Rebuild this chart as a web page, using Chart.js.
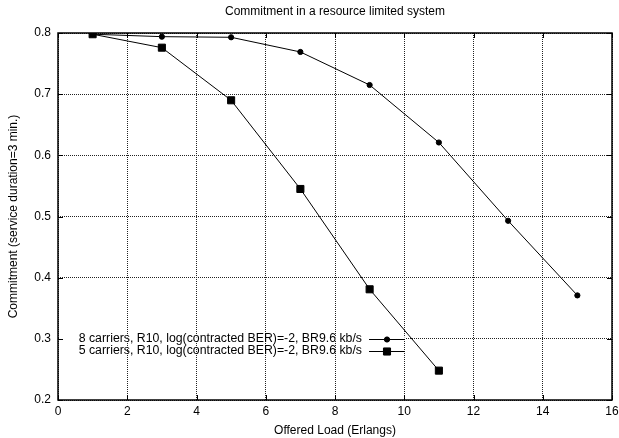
<!DOCTYPE html>
<html>
<head>
<meta charset="utf-8">
<script src="https://cdn.jsdelivr.net/npm/chart.js@4/dist/chart.umd.min.js"></script>
<style>
  html, body { margin: 0; padding: 0; background: #fff; }
  #wrap { width: 619px; height: 438px; }
</style>
</head>
<body>
<div id="wrap"><canvas id="commitChart" width="619" height="438"></canvas></div>
<script>
// offered load (Erlangs)
const loads8 = [1, 3, 5, 7, 9, 11, 13, 15];
const commit8 = [0.798, 0.794, 0.793, 0.769, 0.715, 0.621, 0.493, 0.371];
const loads5 = [1, 3, 5, 7, 9, 11];
const commit5 = [0.798, 0.776, 0.690, 0.545, 0.381, 0.248];
const seriesLabels = [
    "8 carriers, R10, log(contracted BER)=-2, BR9.6 kb/s",
    "5 carriers, R10, log(contracted BER)=-2, BR9.6 kb/s",
];
const xTicks = [0, 2, 4, 6, 8, 10, 12, 14, 16];
const yTicks = [0.2, 0.3, 0.4, 0.5, 0.6, 0.7, 0.8];

const FONT = "'Liberation Sans', Arial, sans-serif";
Chart.defaults.font.family = FONT;
Chart.defaults.font.size = 12;
Chart.defaults.color = "#000";

const toPoints = (xs, ys) => xs.map((x, i) => ({ x: x, y: ys[i] }));

// gnuplot style frame, inward ticks and key inside the plot
const framePlugin = {
    id: "frame",
    beforeDatasetsDraw(chart) {
        const ctx = chart.ctx;
        const y = chart.scales.y.getPixelForValue(0.3);
        ctx.save();
        ctx.fillStyle = "#fff";
        ctx.fillRect(chart.chartArea.left + 1, y - 1.5, 405 - chart.chartArea.left, 3);
        ctx.restore();
    },
    afterDraw(chart) {
        const ctx = chart.ctx;
        const a = chart.chartArea;
        const xs = chart.scales.x;
        const ys = chart.scales.y;
        ctx.save();
        ctx.strokeStyle = "#000";
        ctx.lineWidth = 1.5;
        ctx.strokeRect(Math.round(a.left), Math.round(a.top),
            Math.round(a.right - a.left), Math.round(a.bottom - a.top));
        ctx.lineWidth = 1;
        const tl = 5;
        ctx.beginPath();
        xTicks.forEach((v) => {
            const px = Math.round(xs.getPixelForValue(v)) + 0.5;
            ctx.moveTo(px, a.bottom); ctx.lineTo(px, a.bottom - tl);
            ctx.moveTo(px, a.top); ctx.lineTo(px, a.top + tl);
        });
        yTicks.forEach((v) => {
            const py = Math.round(ys.getPixelForValue(v)) + 0.5;
            ctx.moveTo(a.left, py); ctx.lineTo(a.left + tl, py);
            ctx.moveTo(a.right, py); ctx.lineTo(a.right - tl, py);
        });
        ctx.stroke();

        // key
        const rows = [338.5, 351];
        chart.data.datasets.forEach((ds, i) => {
            const ry = rows[i];
            ctx.fillStyle = "#000";
            ctx.font = "12.3px " + FONT;
            ctx.textAlign = "right";
            ctx.textBaseline = "middle";
            ctx.fillText(ds.label, 362, ry);
            ctx.beginPath();
            ctx.moveTo(369, Math.round(ry) + 0.5);
            ctx.lineTo(405, Math.round(ry) + 0.5);
            ctx.stroke();
            Chart.helpers.drawPoint(ctx, {
                pointStyle: ds.pointStyle,
                radius: ds.pointRadius,
                borderWidth: 1,
            }, 387, Math.round(ry) + 0.5);
            ctx.fill();
        });
        ctx.restore();
    },
};

new Chart(document.getElementById("commitChart").getContext("2d"), {
    type: "line",
    data: {
        datasets: [
            {
                label: seriesLabels[0],
                data: toPoints(loads8, commit8),
                borderColor: "#000",
                backgroundColor: "#000",
                borderWidth: 1,
                pointStyle: "circle",
                pointRadius: 2.6,
                pointBorderWidth: 1,
                tension: 0,
            },
            {
                label: seriesLabels[1],
                data: toPoints(loads5, commit5),
                borderColor: "#000",
                backgroundColor: "#000",
                borderWidth: 1,
                pointStyle: "rect",
                pointRadius: 5,
                pointBorderWidth: 1,
                tension: 0,
            },
        ],
    },
    options: {
        responsive: false,
        animation: false,
        layout: { padding: { left: 0, right: 7, top: 0, bottom: 0 } },
        plugins: {
            legend: { display: false },
            tooltip: { enabled: false },
            title: {
                display: true,
                text: "Commitment in a resource limited system",
                fullSize: false,
                font: { size: 12, weight: "normal" },
                color: "#000",
                padding: { top: 4.8, bottom: 13.8 },
            },
        },
        scales: {
            x: {
                type: "linear",
                min: 0,
                max: 16,
                afterBuildTicks: (scale) => {
                    scale.ticks = xTicks.map((v) => ({ value: v }));
                },
                afterFit: (scale) => {
                    scale.height = 38;
                    scale.paddingLeft = 0;
                    scale.paddingRight = 0;
                },
                grid: {
                    color: "#222",
                    lineWidth: 1,
                    drawTicks: false,
                },
                border: { display: false, dash: [1, 1] },
                ticks: { padding: 4, color: "#000", maxRotation: 0 },
                title: {
                    display: true,
                    text: "Offered Load (Erlangs)",
                    color: "#000",
                    padding: { top: 0, bottom: 0 },
                },
            },
            y: {
                type: "linear",
                min: 0.2,
                max: 0.8,
                afterBuildTicks: (scale) => {
                    scale.ticks = yTicks.map((v) => ({ value: v }));
                },
                afterFit: (scale) => {
                    scale.width = 58;
                    scale.paddingTop = 0;
                    scale.paddingBottom = 0;
                },
                grid: {
                    color: "#222",
                    lineWidth: 1,
                    drawTicks: false,
                },
                border: { display: false, dash: [1, 1] },
                ticks: {
                    padding: 7,
                    color: "#000",
                    callback: (v) => v.toFixed(1),
                },
                title: {
                    display: true,
                    text: "Commitment (service duration=3 min.)",
                    color: "#000",
                    padding: { top: 6.8, bottom: 0 },
                },
            },
        },
    },
    plugins: [framePlugin],
});
</script>
</body>
</html>
